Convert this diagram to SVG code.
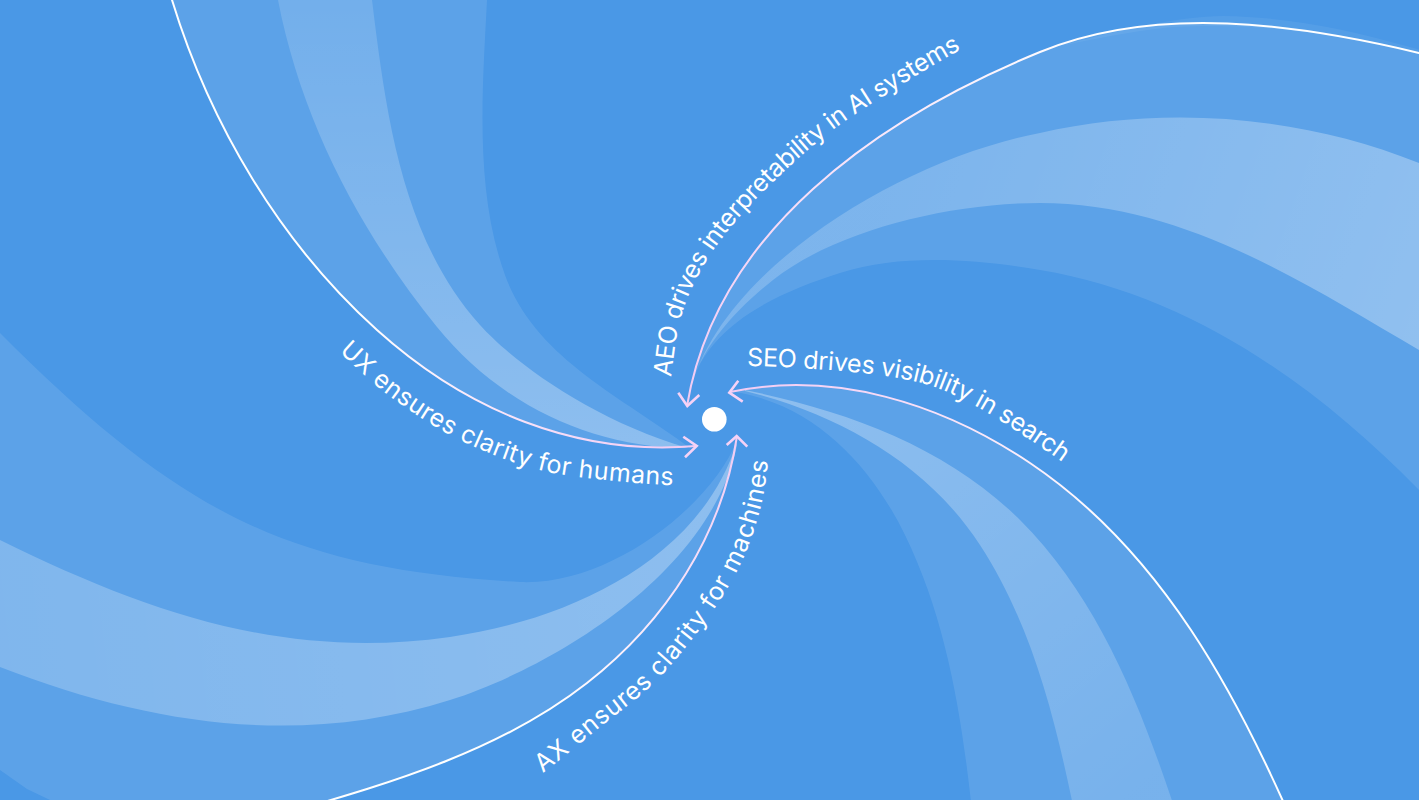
<svg xmlns="http://www.w3.org/2000/svg" xmlns:xlink="http://www.w3.org/1999/xlink" width="1419" height="800" viewBox="0 0 1419 800">
<defs>
<style>
.arm{fill:#ffffff;fill-opacity:0.1}
.sliver{fill:#ffffff;fill-opacity:0.06}
.line{fill:none;stroke-width:2}
.arrow{fill:none;stroke:#f5d2f6;stroke-width:2.6;stroke-linecap:butt;stroke-linejoin:miter}
.lbl{font-family:Inter,"Liberation Sans",sans-serif;font-size:25px;fill:#ffffff}
</style>
<linearGradient id="gUX" gradientUnits="userSpaceOnUse" x1="172" y1="0" x2="696" y2="446"><stop offset="0" stop-color="#ffffff"/><stop offset="0.5" stop-color="#ffffff"/><stop offset="1" stop-color="#f2cbf3"/></linearGradient>
<linearGradient id="gAEO" gradientUnits="userSpaceOnUse" x1="1419" y1="53" x2="687" y2="406"><stop offset="0" stop-color="#ffffff"/><stop offset="0.35" stop-color="#ffffff"/><stop offset="1" stop-color="#f2cbf3"/></linearGradient>
<linearGradient id="gSEO" gradientUnits="userSpaceOnUse" x1="1283" y1="800" x2="730" y2="392"><stop offset="0" stop-color="#ffffff"/><stop offset="0.4" stop-color="#ffffff"/><stop offset="1" stop-color="#f2cbf3"/></linearGradient>
<linearGradient id="gAX" gradientUnits="userSpaceOnUse" x1="335" y1="800" x2="737" y2="436"><stop offset="0" stop-color="#ffffff"/><stop offset="0.4" stop-color="#ffffff"/><stop offset="1" stop-color="#f2cbf3"/></linearGradient>
<linearGradient id="bUX" gradientUnits="userSpaceOnUse" x1="0" y1="0" x2="0" y2="440"><stop offset="0" stop-color="#ffffff" stop-opacity="0.14"/><stop offset="1" stop-color="#ffffff" stop-opacity="0.3"/></linearGradient>
<linearGradient id="bAEO" gradientUnits="userSpaceOnUse" x1="900" y1="150" x2="1419" y2="330"><stop offset="0" stop-color="#ffffff" stop-opacity="0.2"/><stop offset="1" stop-color="#ffffff" stop-opacity="0.32"/></linearGradient>
<linearGradient id="bSEO" gradientUnits="userSpaceOnUse" x1="800" y1="400" x2="1130" y2="800"><stop offset="0" stop-color="#ffffff" stop-opacity="0.3"/><stop offset="1" stop-color="#ffffff" stop-opacity="0.17"/></linearGradient>
<linearGradient id="bAX" gradientUnits="userSpaceOnUse" x1="0" y1="600" x2="700" y2="520"><stop offset="0" stop-color="#ffffff" stop-opacity="0.22"/><stop offset="1" stop-color="#ffffff" stop-opacity="0.3"/></linearGradient>
<path id="tpUX" d="M339,352 C354.3,365.3 371.8,383.3 392,398 C412.2,412.7 435.3,428 460,440 C484.7,452 512.5,463 540,470 C567.5,477 600,479.3 625,482 C650,484.7 670.8,485 690,486 L730,487"/>
<path id="tpAEO" d="M671,377 C673.7,358.7 675.2,337.5 680,320 C684.8,302.5 691.7,287.3 700,272 C708.3,256.7 717.5,243.3 730,228 C742.5,212.7 758.3,196 775,180 C791.7,164 810.8,146.7 830,132 C849.2,117.3 868.3,105.7 890,92 C911.7,78.3 936.7,62.8 960,50 L1006,25"/>
<path id="tpSEO" d="M747,366 C763.7,366.2 779.5,366.7 800,368 C820.5,369.3 849.2,371.3 870,374 C890.8,376.7 908.3,379.2 925,384 C941.7,388.8 955,395.3 970,403 C985,410.7 999.7,420.2 1015,430 C1030.3,439.8 1047.8,452 1062,462 L1095,486"/>
<path id="tpAX" d="M543,773 C559.7,760 581.3,742.2 600,727 C618.7,711.8 637.5,699.5 655,682 C672.5,664.5 690.8,641.5 705,622 C719.2,602.5 730.8,583.7 740,565 C749.2,546.3 755.3,527 760,510 C764.7,493 766,478 768,463 L772,430"/>
</defs>

<rect x="0" y="0" width="1419" height="800" fill="#4a98e6"/>

<g id="swirl">
  <g id="arm-ux">
    <path class="arm" d="M168,-12 L172,0 C210,124.3 280.4,243 377,330 C466.2,410.3 576.5,456.5 696,446 L690,448 C619.6,395.2 535,357.7 505,275 C474.2,190.4 482.5,90 487,0 L487,-12 Z"/>
    <path fill="url(#bUX)" d="M278,-12 L278,0 C301.5,120.8 359.6,231.4 437,327 C498.4,402.8 590.4,448 688,448 C592,420 513.5,362.2 480,325 C402.4,238.8 386.1,115.5 372,0 L372,-12 Z"/>
  </g>
  <g id="arm-aeo">
    <path class="sliver" d="M1060,46 C1120,30 1180,16 1223,16 C1290,17 1357,30 1440,56 L1419,53 C1331,31.3 1249,22.7 1173,27 C1131,31 1090,40 1060,46 Z"/>
    <path class="arm" d="M1480,72 L1419,53 C1296.5,23.6 1156.6,4.2 1040,52 C876.3,119.1 716,232 687,406 L688,400 C698.7,329.3 772,294.5 840,273 C901.75,253.5 975,259.2 1040,270 C1187.9,294.6 1314,382.75 1419,490 L1450,520 Z"/>
    <path fill="url(#bAEO)" d="M1450,175 L1419,163 C1300,115 1163,105 1040,133 C900,160 720,270 690,392 C699,347.9 737.9,307.9 773,280 C835.4,230.4 950,203 1040,203 C1180,203 1298.3,279 1419,350 L1450,368 Z"/>
  </g>
  <g id="arm-seo">
    <path class="arm" d="M730,392 C834.6,369.9 941.2,403.4 1030,463 C1160.9,550.8 1238.3,694.9 1300,840 L975,840 C964.5,735.5 951,629.4 905,535 C871.1,465.5 815,405 735,392 Z"/>
    <path fill="url(#bSEO)" d="M745,390 C846.3,410.7 946.9,446.9 1020,520 C1106,606 1147.4,724.4 1185,840 L1080,840 C1059.4,737.1 1037.2,633.1 980,545 C927.1,463.6 839,414.3 745,391 Z"/>
  </g>
  <g id="arm-ax">
    <path class="arm" d="M737,436 C722.2,534.9 665.8,621.4 587,683 C501.2,750.1 394.7,781.7 290,812 L80,820 L50,800 L27,789 L0,770 L-20,758 L-20,313 L0,333 C179.9,512.9 286.8,568.7 520,582 C610,586 712,505 737,440 Z"/>
    <path fill="url(#bAX)" d="M737,442 C698.2,565.4 559.4,621.5 450,637 C286.4,660.1 150.4,614.1 0,540 L-20,530 L-20,660 L0,667 C149.5,725.1 300.5,747.2 450,700 C547.3,669.3 710.3,575.7 737,445 Z"/>
  </g>
</g>

<g id="connectors">
  <path id="edge-ux" class="line" stroke="url(#gUX)" d="M168,-12 L172,0 C210,124.3 280.4,243 377,330 C466.2,410.3 576.5,456.5 696,446"/>
  <path id="edge-aeo" class="line" stroke="url(#gAEO)" d="M1480,72 L1419,53 C1296.5,23.6 1156.6,4.2 1040,52 C876.3,119.1 716,232 687,406"/>
  <path id="edge-seo" class="line" stroke="url(#gSEO)" d="M730,392 C834.6,369.9 941.2,403.4 1030,463 C1160.9,550.8 1238.3,694.9 1300,840"/>
  <path id="edge-ax" class="line" stroke="url(#gAX)" d="M737,436 C722.2,534.9 665.8,621.4 587,683 C501.2,750.1 394.7,781.7 290,812"/>
  <polyline class="arrow" points="683.3,436.7 696.7,446 685,457.3"/>
  <polyline class="arrow" points="678.3,392.7 687.3,406 699.3,395"/>
  <polyline class="arrow" points="738.3,380.7 729.3,392.7 742.7,401.7"/>
  <polyline class="arrow" points="726.7,445 736.7,436 747.3,446.7"/>
</g>

<g id="node-center">
  <circle cx="714.3" cy="419.3" r="12.3" fill="#ffffff"/>
</g>

<g id="label-ux"><text class="lbl"><textPath href="#tpUX" xlink:href="#tpUX" textLength="370" lengthAdjust="spacing">UX ensures clarity for humans</textPath></text></g>
<g id="label-aeo"><text class="lbl"><textPath href="#tpAEO" xlink:href="#tpAEO" textLength="457" lengthAdjust="spacing">AEO drives interpretability in AI systems</textPath></text></g>
<g id="label-seo"><text class="lbl"><textPath href="#tpSEO" xlink:href="#tpSEO" textLength="338" lengthAdjust="spacing">SEO drives visibility in search</textPath></text></g>
<g id="label-ax"><text class="lbl"><textPath href="#tpAX" xlink:href="#tpAX" textLength="398" lengthAdjust="spacing">AX ensures clarity for machines</textPath></text></g>
</svg>
